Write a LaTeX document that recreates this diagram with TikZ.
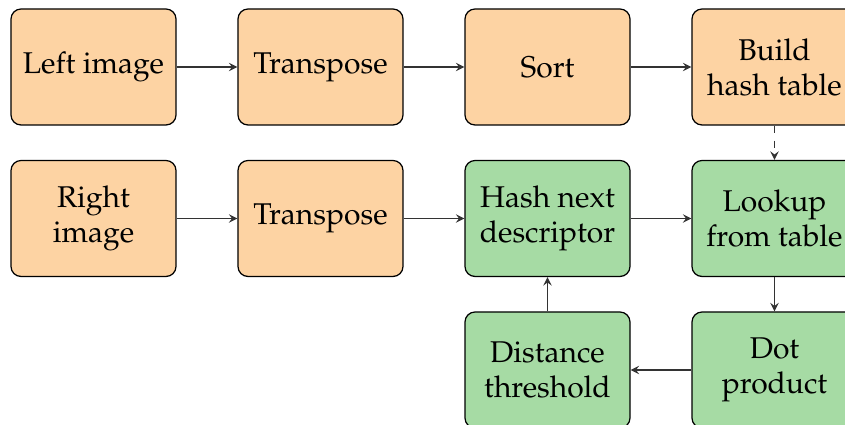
\documentclass[tikz,border=0pt]{standalone}
\usepackage[T1]{fontenc}
\usepackage{mathpazo}
\usepackage{tikz}
\usepackage{xcolor}

\definecolor{prepfill}{RGB}{253,211,163}
\definecolor{matchfill}{RGB}{166,219,164}

\begin{document}
\begin{tikzpicture}[
    stage/.style={rectangle, rounded corners=4pt, draw, line width=0.5pt,
                  minimum width=66pt, minimum height=46.4pt,
                  align=center, font=\large},
    prep/.style={stage, fill=prepfill},
    match/.style={stage, fill=matchfill},
    flow/.style={draw=black!80, line width=0.5pt, -stealth},
    x=90.8pt, y=60.6pt
]
  \useasboundingbox (-37.4pt,26.8pt) rectangle (300.6pt,-143.2pt);

  % Left image pipeline (top row)
  \node[prep] (left)   at (0,0)  {Left image};
  \node[prep] (ltrans) at (1,0)  {Transpose};
  \node[prep] (sort)   at (2,0)  {Sort};
  \node[prep] (build)  at (3,0)  {Build\\hash table};

  % Right image pipeline (middle row)
  \node[prep]  (right)    at (0,-1) {Right\\image};
  \node[prep]  (rtrans)   at (1,-1) {Transpose};
  \node[match] (hashnext) at (2,-1) {Hash next\\descriptor};
  \node[match] (lookup)   at (3,-1) {Lookup\\from table};

  % Matching loop (bottom row)
  \node[match] (dist) at (2,-2) {Distance\\threshold};
  \node[match] (dot)  at (3,-2) {Dot\\product};

  % Top row edges
  \draw[flow] (left)--(ltrans);
  \draw[flow] (ltrans)--(sort);
  \draw[flow] (sort)--(build);
  \draw[flow, dashed] (build)--(lookup);

  % Middle row edges
  \draw[flow] (right)--(rtrans);
  \draw[flow] (rtrans)--(hashnext);
  \draw[flow] (hashnext)--(lookup);

  % Loop back
  \draw[flow] (lookup)--(dot);
  \draw[flow] (dot)--(dist);
  \draw[flow] (dist)--(hashnext);
\end{tikzpicture}
\end{document}
